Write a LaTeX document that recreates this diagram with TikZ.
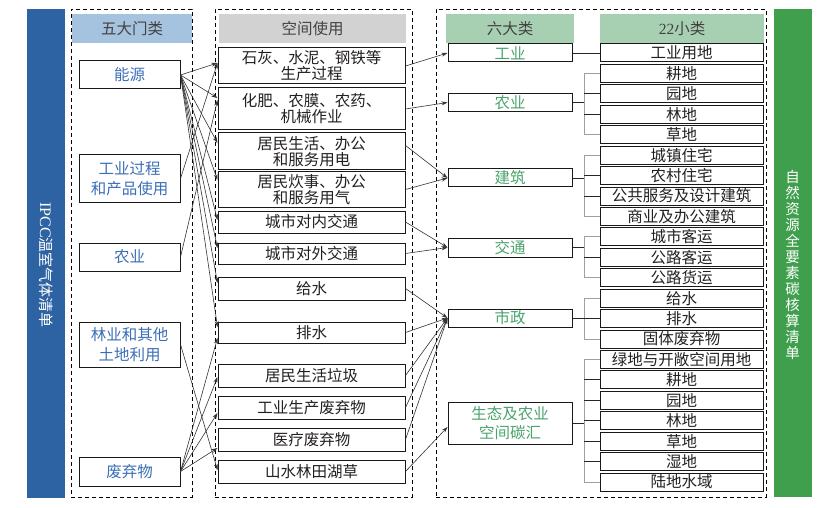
\documentclass[tikz,border=0pt]{standalone}
\usepackage{fontspec}
\setmainfont{Noto Sans CJK SC}
\newfontfamily\lat{Liberation Serif}
\usetikzlibrary{arrows.meta,calc}
\definecolor{barblue}{HTML}{2D62A3}
\definecolor{bargreen}{HTML}{409F4D}
\definecolor{hblue}{HTML}{A5C3DE}
\definecolor{hgray}{HTML}{D2D2D2}
\definecolor{hgreen}{HTML}{A7D0B3}
\definecolor{ltxt}{HTML}{3A6EB5}
\definecolor{gtxt}{HTML}{4AA36C}
\definecolor{mtxt}{HTML}{231F20}
\definecolor{arrc}{HTML}{333333}
\definecolor{brkc}{HTML}{A0A0A0}
\tikzset{
  dashbox/.style={draw=black, line width=0.8pt, dash pattern=on 4pt off 3pt, minimum height=488pt, inner sep=0pt},
  bx/.style={draw=black!90, line width=1pt, inner sep=0pt, align=center, text=mtxt, font=\fontsize{15.5}{16}\selectfont},
  lbox/.style={bx, minimum width=101pt, text=ltxt, font=\fontsize{15.5}{20}\selectfont},
  mbox/.style={bx, minimum width=187pt},
  pbox/.style={bx, minimum width=124pt, text=gtxt, font=\fontsize{15.5}{19}\selectfont},
  sbox/.style={bx, minimum width=163pt, minimum height=18pt},
  hdr/.style={inner sep=0pt, minimum height=29pt, text=mtxt!85, font=\fontsize{15.5}{16}\selectfont},
  arr/.style={-{Stealth[length=6pt,width=4pt]}, line width=0.6pt, draw=arrc},
  brk/.style={draw=brkc, line width=1pt},
  tick/.style={draw=black!85, line width=0.8pt},
}
\begin{document}
\begin{tikzpicture}[x=1pt,y=-1pt]
\useasboundingbox (0,0) rectangle (833,508);
% side bars
\node[fill=barblue, minimum width=38pt, minimum height=489pt, inner sep=0pt] (lbar) at (46,253.5) {};
\node[rotate=-90, text=white, inner sep=0pt, font=\fontsize{15}{16}\selectfont] (lbart) at (46,265) {{\lat\fontsize{16}{16}\selectfont IPCC}温室气体清单};
\node[fill=bargreen, minimum width=38pt, minimum height=488pt, inner sep=0pt] (rbar) at (792.5,253) {};
\node[text=white, align=center, inner sep=0pt, font=\fontsize{14.5}{16}\selectfont] (rbart) at (792.5,265) {自\\然\\资\\源\\全\\要\\素\\碳\\核\\算\\清\\单};
% dashed groups
\node[dashbox, minimum width=121pt] (D1) at (131.5,253) {};
\node[dashbox, minimum width=197pt] (D2) at (313.5,253) {};
\node[dashbox, minimum width=330pt] (D3) at (601,253) {};
% headers
\node[hdr, fill=hblue, minimum width=120pt] (H1) at (132,28.5) {五大门类};
\node[hdr, fill=hgray, minimum width=187pt] (H2) at (312.5,28.5) {空间使用};
\node[hdr, fill=hgreen, minimum width=128pt] (H3) at (510,28.5) {六大类};
\node[hdr, fill=hgreen, minimum width=164pt] (H4) at (682,28.5) {{\lat 22}小类};
% left boxes
\node[lbox, minimum height=28pt] (L1) at (129.5,75) {能源};
\node[lbox, minimum height=47pt] (L2) at (129.5,178.5) {工业过程\\和产品使用};
\node[lbox, minimum height=28pt] (L3) at (129.5,257) {农业};
\node[lbox, minimum height=45pt] (L4) at (129.5,344.5) {林业和其他\\土地利用};
\node[lbox, minimum height=29pt] (L5) at (129.5,471.5) {废弃物};
% middle boxes
\node[mbox, minimum height=36pt] (M1) at (311.5,66) {石灰、水泥、钢铁等\\生产过程};
\node[mbox, minimum height=42pt] (M2) at (311.5,109) {化肥、农膜、农药、\\机械作业};
\node[mbox, minimum height=37pt] (M3) at (311.5,151.5) {居民生活、办公\\和服务用电};
\node[mbox, minimum height=35pt] (M4) at (311.5,189.5) {居民炊事、办公\\和服务用气};
\node[mbox, minimum height=22pt] (M5) at (311.5,222) {城市对内交通};
\node[mbox, minimum height=21pt] (M6) at (311.5,253.5) {城市对外交通};
\node[mbox, minimum height=23pt] (M7) at (311.5,288.5) {给水};
\node[mbox, minimum height=21pt] (M8) at (311.5,332.5) {排水};
\node[mbox, minimum height=23pt] (M9) at (311.5,375.5) {居民生活垃圾};
\node[mbox, minimum height=23pt] (M10) at (311.5,407.5) {工业生产废弃物};
\node[mbox, minimum height=23pt] (M11) at (311.5,439.5) {医疗废弃物};
\node[mbox, minimum height=23pt] (M12) at (311.5,471.5) {山水林田湖草};
% six categories
\node[pbox, minimum height=18pt] (P1) at (510,53) {工业};
\node[pbox, minimum height=18pt] (P2) at (510,102.5) {农业};
\node[pbox, minimum height=18pt] (P3) at (510,178) {建筑};
\node[pbox, minimum height=19pt] (P4) at (510,247.5) {交通};
\node[pbox, minimum height=18pt] (P5) at (510,318) {市政};
\node[pbox, minimum height=42pt] (P6) at (510,423) {生态及农业\\空间碳汇};
% 22 sub categories
\foreach \t [count=\i] in {工业用地,耕地,园地,林地,草地,城镇住宅,农村住宅,公共服务及设计建筑,商业及办公建筑,城市客运,公路客运,公路货运,给水,排水,固体废弃物,绿地与开敞空间用地,耕地,园地,林地,草地,湿地,陆地水域}
  \node[sbox] (S\i) at (681.5,{53+(\i-1)*20.43}) {\t};
% brackets
\coordinate (bx) at (584,0);
\draw[tick] (P1.east) -- (S1.west);
\draw[brk] (S2.west) -- (S2.west -| bx) -- (S5.west -| bx) -- (S5.west);
\foreach \i in {3,4} \draw[tick] (S\i.west) -- (S\i.west -| bx);
\draw[tick] (P2.east) -- (P2.east -| bx);
\draw[brk] (S6.west) -- (S6.west -| bx) -- (S9.west -| bx) -- (S9.west);
\foreach \i in {7,8} \draw[tick] (S\i.west) -- (S\i.west -| bx);
\draw[tick] (P3.east) -- (P3.east -| bx);
\draw[brk] (S10.west) -- (S10.west -| bx) -- (S12.west -| bx) -- (S12.west);
\foreach \i in {11} \draw[tick] (S\i.west) -- (S\i.west -| bx);
\draw[tick] (P4.east) -- (P4.east -| bx);
\draw[brk] (S13.west) -- (S13.west -| bx) -- (S15.west -| bx) -- (S15.west);
\foreach \i in {14} \draw[tick] (S\i.west) -- (S\i.west -| bx);
\draw[tick] (P5.east) -- (P5.east -| bx);
\draw[brk] (S16.west) -- (S16.west -| bx) -- (S22.west -| bx) -- (S22.west);
\foreach \i in {17,18,19,20,21} \draw[tick] (S\i.west) -- (S\i.west -| bx);
\draw[tick] (P6.east) -- (P6.east -| bx);
% left -> middle arrows
\draw[arr] (L1.east) -- ($(M1.west)+(0,-3)$);
\draw[arr] (L1.east) -- ($(M2.west)+(0,-11)$);
\draw[arr] (L1.east) -- ($(M3.west)+(0,-8.5)$);
\draw[arr] (L1.east) -- ($(M4.west)+(0,-9.5)$);
\draw[arr] (L1.east) -- ($(M5.west)+(0,-2)$);
\draw[arr] (L1.east) -- ($(M6.west)+(0,-5.5)$);
\draw[arr] (L1.east) -- ($(M7.west)+(0,-5.5)$);
\draw[arr] (L1.east) -- ($(M8.west)+(0,-5.5)$);
\draw[arr] (L2.east) -- ($(M1.west)+(0,-3)$);
\draw[arr] (L3.east) -- ($(M2.west)+(0,-9)$);
\draw[arr] (L4.east) -- ($(M12.west)+(0,-1.5)$);
\draw[arr] (L5.east) -- ($(M8.west)+(0,5.5)$);
\draw[arr] (L5.east) -- ($(M9.west)+(0,1.5)$);
\draw[arr] (L5.east) -- ($(M10.west)+(0,5.5)$);
\draw[arr] (L5.east) -- ($(M11.west)+(0,8.5)$);
% middle -> six arrows
\draw[arr] (M1.east) -- (P1.west);
\draw[arr] (M2.east) -- (P2.west);
\draw[arr] ($(M3.east)+(0,-6)$) -- (P3.west);
\draw[arr] (M4.east) -- (P3.west);
\draw[arr] (M5.east) -- (P4.west);
\draw[arr] (M6.east) -- (P4.west);
\foreach \i in {7,8,9,10,11} \draw[arr] (M\i.east) -- (P5.west);
\draw[arr] (M12.east) -- ($(P6.west)+(0,4)$);
\end{tikzpicture}
\end{document}
